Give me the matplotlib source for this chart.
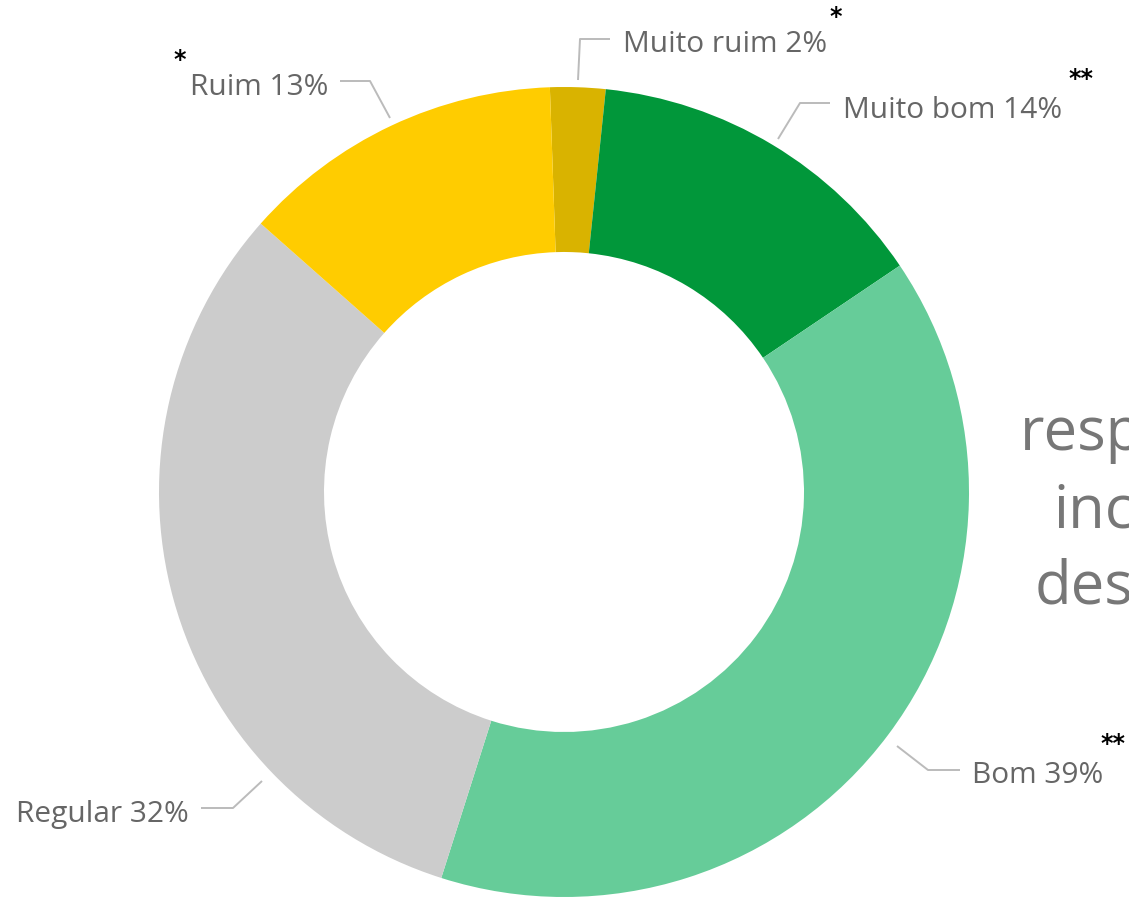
import numpy as np
import matplotlib
matplotlib.use("Agg")
from matplotlib import pyplot as plt

# slice data, clockwise from the top
categories = ["Muito ruim", "Muito bom", "Bom", "Regular", "Ruim"]
shares = [2.2, 13.9, 39.3, 31.6, 12.9]
shown_pct = [2, 14, 39, 32, 13]
colors = ["#D9B300", "#01973A", "#66CC99", "#CCCCCC", "#FFCC00"]
stars = ["*", "**", "**", "", "*"]

W, H = 1129, 899


def Y(y):
    # image rows -> data y (origin at bottom)
    return H - y


fig = plt.figure(figsize=(W / 100, H / 100), dpi=100)
ax = fig.add_axes([0, 0, 1, 1])

cx, cy = 564, 492
ax.pie(shares, colors=colors, startangle=92, counterclock=False,
       radius=405, center=(cx, Y(cy)),
       wedgeprops=dict(width=165, edgecolor="none", linewidth=0))
ax.set_xlim(0, W)
ax.set_ylim(0, H)
ax.set_aspect("auto")
ax.axis("off")

# label layout: leader polyline, text anchor, alignment, star position
layout = {
    "Muito ruim": dict(line=[(578, 80), (580, 39), (610, 39)], txt=(623, 52), ha="left", star=(836, 5)),
    "Muito bom": dict(line=[(778, 139), (800, 103), (830, 103)], txt=(843, 118), ha="left", star=(1081, 67)),
    "Bom": dict(line=[(897, 746), (928, 770), (960, 770)], txt=(972, 783), ha="left", star=(1113, 732)),
    "Regular": dict(line=[(262, 781), (233, 808), (201, 808)], txt=(189, 822), ha="right", star=None),
    "Ruim": dict(line=[(390, 118), (370, 81), (340, 81)], txt=(328, 95), ha="right", star=(180, 48)),
}

for cat, pct, st in zip(categories, shown_pct, stars):
    lay = layout[cat]
    xs = [p[0] for p in lay["line"]]
    ys = [Y(p[1]) for p in lay["line"]]
    ax.plot(xs, ys, color="#BBBBBB", lw=1.4, solid_capstyle="butt")
    tx, ty = lay["txt"]
    ax.text(tx, Y(ty), f"{cat} {pct}%", ha=lay["ha"], va="baseline",
            fontsize=21.5, family="Open Sans", color="#666666")
    if st and lay["star"]:
        sx, sy = lay["star"]
        ax.text(sx, Y(sy), st, ha="center", va="top", fontsize=17,
                fontweight="bold", color="black", family="DejaVu Sans")

# big grey text cut off on the right edge
big_lines = ["resp", "inc", "des"]
big_pos = [(1020, 450), (1053, 527), (1035, 603)]
for word, (bx, by) in zip(big_lines, big_pos):
    ax.text(bx, Y(by), word, ha="left", va="baseline", fontsize=43,
            family="Open Sans", color="#777777", clip_on=False)

fig.savefig("out.png", dpi=100)
